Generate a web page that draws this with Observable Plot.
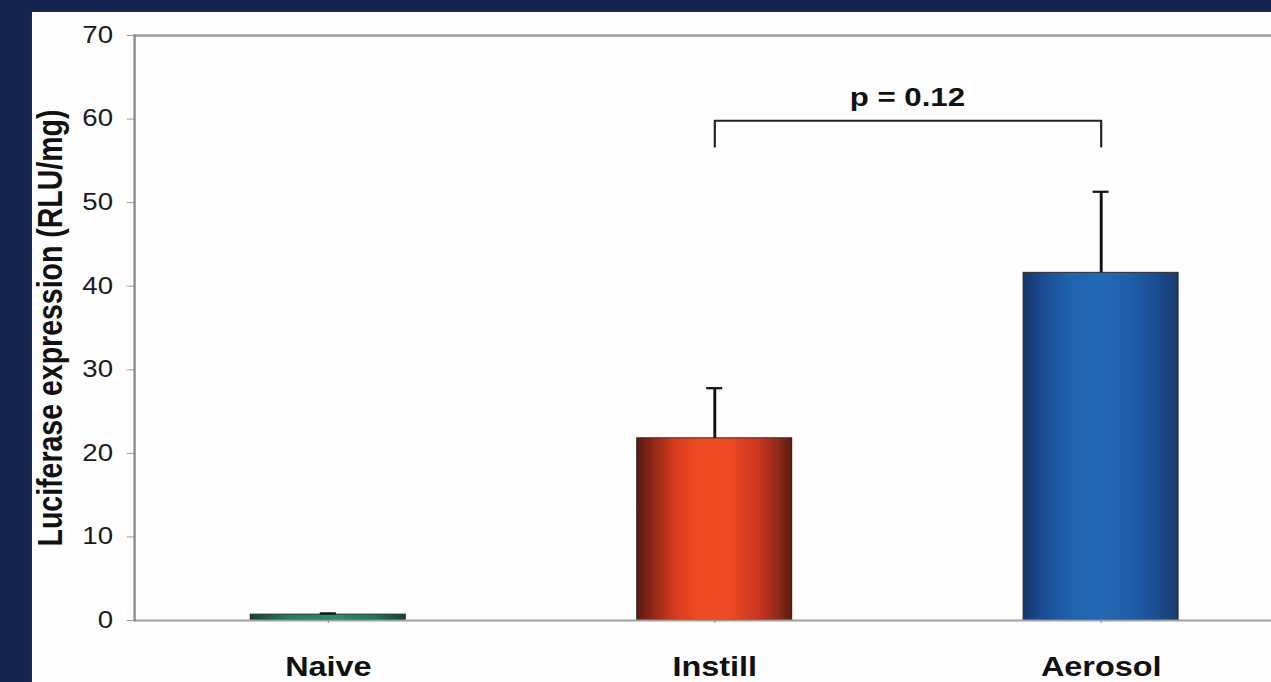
<!DOCTYPE html>
<html>
<head>
<meta charset="utf-8">
<script src="https://cdn.jsdelivr.net/npm/d3@7"></script>
<script src="https://cdn.jsdelivr.net/npm/@observablehq/plot@0.6"></script>
<style>
  html, body { margin: 0; padding: 0; background: #16254f; width: 1271px; height: 682px; overflow: hidden; }
  #panel { position: absolute; left: 31px; top: 11px; width: 1240px; height: 671px; box-sizing: border-box;
           background: #fdfdfd; border-left: 1px solid #2a2a2a; border-top: 1px solid #2a2a2a; overflow: hidden; }
  #panel svg { display: block; }
</style>
</head>
<body>
<div id="panel"></div>
<script>
// ---- data ----
const categories = ["Naive", "Instill", "Aerosol"];
const means = [0.7, 21.8, 41.6];
const upperErrors = [0.85, 27.8, 51.3];
const yTicks = [0, 10, 20, 30, 40, 50, 60, 70];
const yLabel = "Luciferase expression (RLU/mg)";
const comparison = ["Instill", "Aerosol"];
const bracketTop = 59.8;
const bracketFoot = 56.7;
const pValueY = 62.6;
const pLabel = "p = 0.12";

// ---- styles ----
const gradientIds = ["gNaive", "gInstill", "gAerosol"];
const gradientStops = [
  [[0, "#12442f"], [0.25, "#1d8159"], [0.55, "#22946a"], [0.8, "#1b7a53"], [1, "#12442f"]],
  [[0, "#5a1a10"], [0.1, "#8e2616"], [0.25, "#d83c1e"], [0.4, "#f04a22"], [0.6, "#ee4923"], [0.8, "#c63520"], [0.92, "#8a2718"], [1, "#5c1c12"]],
  [[0, "#173669"], [0.12, "#1a4b92"], [0.3, "#1f63ad"], [0.5, "#2169b5"], [0.7, "#1e5ea8"], [0.88, "#1b4a8d"], [1, "#183a70"]]
];

const SX = 1.2;            // horizontal stretch of the reference
const W = 1239 / SX, H = 670;

const rows = categories.map((c, i) => ({cat: c, mean: means[i], top: upperErrors[i]}));
const bracketRows = [
  {cat: comparison[0], y: bracketFoot},
  {cat: comparison[0], y: bracketTop},
  {cat: comparison[1], y: bracketTop},
  {cat: comparison[1], y: bracketFoot}
];

function pValueMark(index, scales) {
  const x = scales.x, y = scales.y;
  const half = typeof x.bandwidth === "function" ? x.bandwidth() / 2 : 0;
  const cx = (x(comparison[0]) + x(comparison[1])) / 2 + half;
  const t = document.createElementNS("http://www.w3.org/2000/svg", "text");
  t.setAttribute("x", cx);
  t.setAttribute("y", y(pValueY));
  t.setAttribute("text-anchor", "middle");
  t.setAttribute("dy", "0.35em");
  t.setAttribute("font-size", 26);
  t.setAttribute("font-weight", "bold");
  t.setAttribute("fill", "#111");
  t.textContent = pLabel;
  return t;
}

const chart = Plot.plot({
  width: W,
  height: H,
  marginLeft: 85,
  marginRight: 0,
  marginTop: 23,
  marginBottom: 62,
  style: {fontFamily: "'Liberation Sans', Arial, sans-serif", background: "transparent"},
  x: {domain: categories, range: [102 / SX, 1263 / SX], paddingInner: 0.6, paddingOuter: 0.3, axis: null},
  y: {domain: [0, 70], axis: null},
  marks: [
    Plot.ruleY([70], {stroke: "#9c9c9c", strokeWidth: 2.5}),
    ...categories.map((c, i) => Plot.barY(rows.filter(d => d.cat === c), {
      x: "cat", y: "mean", fill: `url(#${gradientIds[i]})`, stroke: "#2a2a2a", strokeWidth: 1
    })),
    Plot.ruleY([0], {stroke: "#a0a0a0", strokeWidth: 2}),
    Plot.frame({anchor: "left", stroke: "#8c8c8c", strokeWidth: 2}),
    Plot.axisY({ticks: yTicks, tickSize: 6, tickPadding: 12, fontSize: 23, stroke: "#999", fill: "#1a1a1a", label: null}),
    Plot.axisX({tickSize: 3, tickPadding: 33, fontSize: 27, fontWeight: "bold", stroke: "#999", fill: "#111", label: null}),
    Plot.text([yLabel], {frameAnchor: "left", dx: -70, rotate: -90, textAnchor: "middle", lineAnchor: "middle",
      fontSize: 28.5, fontWeight: "bold", fill: "#111"}),
    Plot.ruleX(rows, {x: "cat", y1: "mean", y2: "top", stroke: "#111", strokeWidth: 2.4}),
    Plot.tickY(rows, {x: "cat", y: "top", inset: 57.8, stroke: "#111", strokeWidth: 2.2}),
    Plot.line(bracketRows, {x: "cat", y: "y", stroke: "#222", strokeWidth: 1.8}),
    pValueMark
  ]
});

// stretch horizontally like the reference
chart.setAttribute("width", 1239);
chart.setAttribute("height", 670);
chart.setAttribute("preserveAspectRatio", "none");
chart.style.width = "1239px";
chart.style.height = "670px";
chart.style.maxWidth = "none";

// gradients
const defs = d3.select(chart).insert("defs", ":first-child");
gradientIds.forEach((id, i) => {
  const g = defs.append("linearGradient").attr("id", id).attr("x1", 0).attr("x2", 1).attr("y1", 0).attr("y2", 0);
  gradientStops[i].forEach(([o, c]) => g.append("stop").attr("offset", o).attr("stop-color", c));
});

document.getElementById("panel").appendChild(chart);
</script>
</body>
</html>
